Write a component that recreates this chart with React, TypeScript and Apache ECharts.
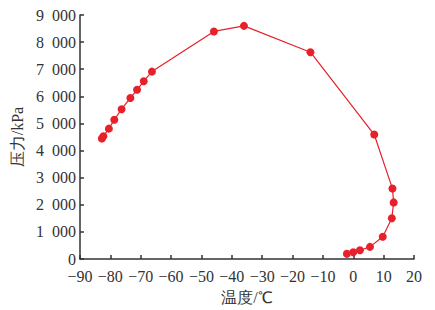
import React, { useEffect, useRef } from "react";
import * as echarts from "echarts";

const temperatures = [-82.8, -82.3, -80.5, -78.7, -76.3, -73.4, -71.2, -69.0, -66.3, -45.9, -36.0, -14.1, 6.9, 12.9, 13.3, 12.7, 9.7, 5.5, 2.2, 0.0, -2.1];
const pressures = [4446, 4530, 4810, 5138, 5528, 5940, 6243, 6560, 6913, 8393, 8600, 7628, 4592, 2600, 2090, 1506, 826, 450, 328, 255, 194];
const xAxisName = "温度/℃";
const yAxisName = "压力/kPa";

const serif = "Liberation Serif";

export default function App() {
  const ref = useRef<HTMLDivElement>(null);
  useEffect(() => {
    document.body.style.margin = "0";
    const chart = echarts.init(ref.current!, null, { renderer: "svg" });
    const data = temperatures.map((t, i) => [t, pressures[i]]);
    chart.setOption({
      animation: false,
      backgroundColor: "#fff",
      grid: { left: 80, right: 21, top: 15, bottom: 48 },
      xAxis: {
        type: "value",
        min: -90,
        max: 20,
        interval: 10,
        name: xAxisName,
        nameLocation: "middle",
        nameGap: 29,
        nameTextStyle: { fontFamily: serif, fontSize: 16, color: "#333" },
        axisLine: { show: true, onZero: false, lineStyle: { color: "#333", width: 1.5 } },
        axisTick: { show: true, inside: true, length: 4, lineStyle: { color: "#333", width: 1.5 } },
        axisLabel: {
          fontFamily: serif,
          fontSize: 16,
          color: "#333",
          margin: 9,
          formatter: (v: number) => String(v).replace("-", "−"),
        },
        splitLine: { show: false },
      },
      yAxis: {
        type: "value",
        min: 0,
        max: 9000,
        interval: 1000,
        name: yAxisName,
        nameLocation: "middle",
        nameGap: 50,
        nameTextStyle: { fontFamily: serif, fontSize: 16, color: "#333" },
        axisLine: { show: true, onZero: false, lineStyle: { color: "#333", width: 1.5 } },
        axisTick: { show: true, inside: true, length: 4, lineStyle: { color: "#333", width: 1.5 } },
        axisLabel: {
          fontFamily: serif,
          fontSize: 16,
          color: "#333",
          margin: 4,
          formatter: (v: number) => String(v).replace(/\B(?=(\d{3})+(?!\d))/g, "\u2007"),
        },
        splitLine: { show: false },
      },
      series: [
        {
          type: "line",
          data,
          symbol: "circle",
          symbolSize: 8,
          itemStyle: { color: "#e8202a" },
          lineStyle: { color: "#e8202a", width: 1.2 },
        },
      ],
    });
    return () => chart.dispose();
  }, []);
  return <div ref={ref} style={{ width: 435, height: 310 }} />;
}
